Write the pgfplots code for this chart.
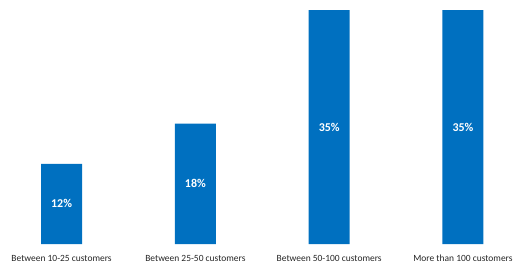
\documentclass[border=0pt]{standalone}
\usepackage{pgfplots}
\pgfplotsset{compat=1.18}
\usepackage{fontspec}
\setmainfont{Carlito}
\definecolor{barblue}{HTML}{0070C0}
\begin{document}
\begin{tikzpicture}
\begin{axis}[
  at={(0,0)}, anchor=south west,
  scale only axis, width=528bp, height=244bp,
  xmin=-0.46, xmax=3.486, ymin=0, ymax=36.5,
  axis line style={draw=none},
  ytick=\empty,
  xtick={0,1,2,3},
  xticklabels={Between 10-25 customers, Between 25-50 customers, Between 50-100 customers, More than 100 customers},
  major tick length=0pt,
  xticklabel style={anchor=center, yshift=-14bp, font=\fontsize{9.5}{11}\selectfont, text=black!85},
  clip=false,
]
\addplot[ybar, bar width=41bp, fill=barblue, draw=none] coordinates {(0,12) (1,18) (2,35) (3,35)};
\addplot[draw=none, mark=none, nodes near coords, point meta=explicit symbolic,
  every node near coord/.style={anchor=center, text=white, font=\fontsize{12}{14}\selectfont\bfseries}]
  coordinates {(0,6) [12\%] (1,9) [18\%] (2,17.5) [35\%] (3,17.5) [35\%]};
\end{axis}
\pgfresetboundingbox
\path (0,-20bp) rectangle (528bp,244bp);
\end{tikzpicture}
\end{document}
